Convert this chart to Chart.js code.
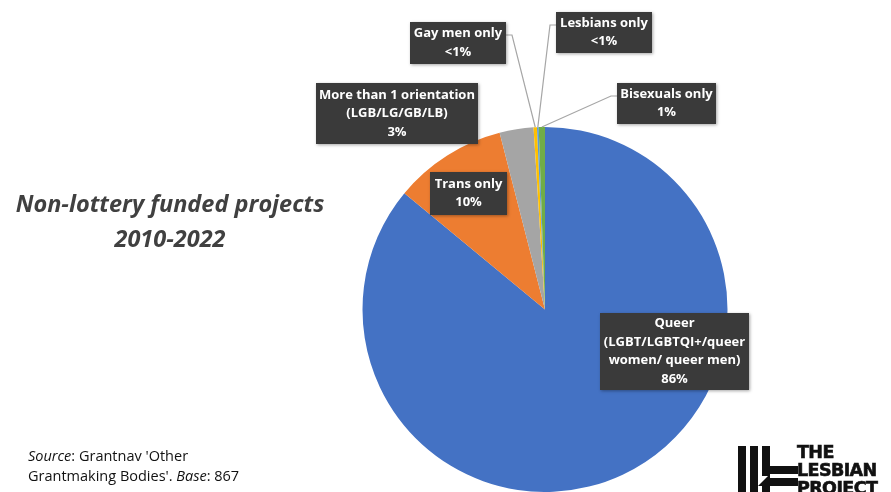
<!DOCTYPE html>
<html>
<head>
<meta charset="utf-8">
<script src="https://cdn.jsdelivr.net/npm/chart.js@4"></script>
<style>
  html, body { margin: 0; padding: 0; background: #fff; }
  #wrap { position: relative; width: 891px; height: 492px; overflow: hidden; }
  #chart { position: absolute; left: 0; top: 0; }
  .title { position: absolute; left: 0; width: 340px; top: 186px; text-align: center;
    font-family: "Open Sans", sans-serif; font-weight: 700; font-style: italic;
    font-size: 23.5px; line-height: 35px; color: #404040; }
  .source { position: absolute; left: 28px; top: 446px; font-family: "Open Sans", sans-serif;
    font-size: 14.5px; line-height: 20px; color: #111; }
  .logo { position: absolute; left: 797px; top: 443px; font-family: "DejaVu Sans", sans-serif;
    font-weight: 900; font-size: 17.5px; line-height: 18px; color: #111; letter-spacing: -0.6px;
    -webkit-text-stroke: 0.6px #111; }
</style>
</head>
<body>
<div id="wrap">
  <canvas id="chart" width="891" height="492"></canvas>
  <div class="title">Non-lottery funded projects<br>2010-2022</div>
  <div class="source"><i>Source</i>: Grantnav 'Other<br>Grantmaking Bodies'. <i>Base</i>: 867</div>
  <div class="logo">THE<br>LESBIAN<br>PROJECT</div>
</div>
<script>
const categories = ['Queer', 'Trans only', 'More than 1 orientation', 'Gay men only', 'Lesbians only', 'Bisexuals only'];
const values = [86.0, 10.0, 3.0, 0.3, 0.15, 0.55];
const valueLabels = ['86%', '10%', '3%', '<1%', '<1%', '1%'];
const labelLines = [
  ['Queer', '(LGBT/LGBTQI+/queer', 'women/ queer men)'],
  ['Trans only'],
  ['More than 1 orientation', '(LGB/LG/GB/LB)'],
  ['Gay men only'],
  ['Lesbians only'],
  ['Bisexuals only']
];
const colors = ['#4472C4', '#ED7D31', '#A5A5A5', '#FFC000', '#5B9BD5', '#70AD47'];

// label box placement (left, top, width, height) and leader side
const boxes = [
  { x: 600, y: 313, w: 149, h: 77, leader: null },
  { x: 430, y: 172, w: 77, h: 43, leader: null },
  { x: 316, y: 83, w: 162, h: 61, leader: null },
  { x: 410, y: 22, w: 96, h: 42, leader: 'right' },
  { x: 556, y: 12, w: 96, h: 41, leader: 'left' },
  { x: 617, y: 83, w: 99, h: 41, leader: 'left' }
];

const labelPlugin = {
  id: 'labelBoxes',
  afterDatasetsDraw(chart) {
    const ctx = chart.ctx;
    const arcs = chart.getDatasetMeta(0).data;
    ctx.save();
    // leader lines
    arcs.forEach((arc, i) => {
      const b = boxes[i];
      if (!b.leader) return;
      const p = arc.getProps(['x', 'y', 'startAngle', 'endAngle', 'outerRadius'], true);
      const mid = (p.startAngle + p.endAngle) / 2;
      const ex = p.x + Math.cos(mid) * p.outerRadius;
      const ey = p.y + Math.sin(mid) * p.outerRadius;
      const ly = b.y + 13;
      const bx = b.leader === 'right' ? b.x + b.w : b.x;
      const kx = b.leader === 'right' ? bx + 6 : bx - 6;
      ctx.strokeStyle = '#A6A6A6';
      ctx.lineWidth = 1.2;
      ctx.beginPath();
      ctx.moveTo(bx, ly);
      ctx.lineTo(kx, ly);
      ctx.lineTo(ex, ey);
      ctx.stroke();
    });
    // boxes
    arcs.forEach((arc, i) => {
      const b = boxes[i];
      ctx.save();
      ctx.shadowColor = 'rgba(0,0,0,0.35)';
      ctx.shadowBlur = 3;
      ctx.shadowOffsetX = 1;
      ctx.shadowOffsetY = 1;
      ctx.fillStyle = '#3A3A3A';
      ctx.fillRect(b.x, b.y, b.w, b.h);
      ctx.restore();
      const lines = labelLines[i].concat([valueLabels[i]]);
      const lh = 18.5;
      const cy = b.y + b.h / 2 - (lines.length - 1) * lh / 2;
      ctx.fillStyle = '#FFFFFF';
      ctx.font = '700 13px "Open Sans", sans-serif';
      ctx.textAlign = 'center';
      ctx.textBaseline = 'middle';
      lines.forEach((t, k) => ctx.fillText(t, b.x + b.w / 2, cy + k * lh));
    });
    ctx.restore();
  },
  afterDraw(chart) {
    // logo mark
    const ctx = chart.ctx;
    ctx.save();
    ctx.fillStyle = '#111';
    ctx.fillRect(738, 446, 8, 46);
    ctx.fillRect(750, 446, 8, 46);
    ctx.fillRect(762, 446, 8, 46);
    ctx.fillRect(762, 466, 36, 8);
    ctx.fillRect(750, 478, 48, 8);
    ctx.fillStyle = '#fff';
    ctx.beginPath();
    ctx.moveTo(758, 476);
    ctx.lineTo(768, 476);
    ctx.lineTo(758, 486);
    ctx.fill();
    ctx.restore();
  }
};

new Chart(document.getElementById('chart'), {
  type: 'pie',
  data: {
    labels: categories,
    datasets: [{
      data: values,
      backgroundColor: colors,
      borderWidth: 0
    }]
  },
  options: {
    responsive: false,
    animation: false,
    layout: { padding: { left: 362, right: 163, top: 127, bottom: 0 } },
    plugins: {
      legend: { display: false },
      tooltip: { enabled: false }
    }
  },
  plugins: [labelPlugin]
});
</script>
</body>
</html>
